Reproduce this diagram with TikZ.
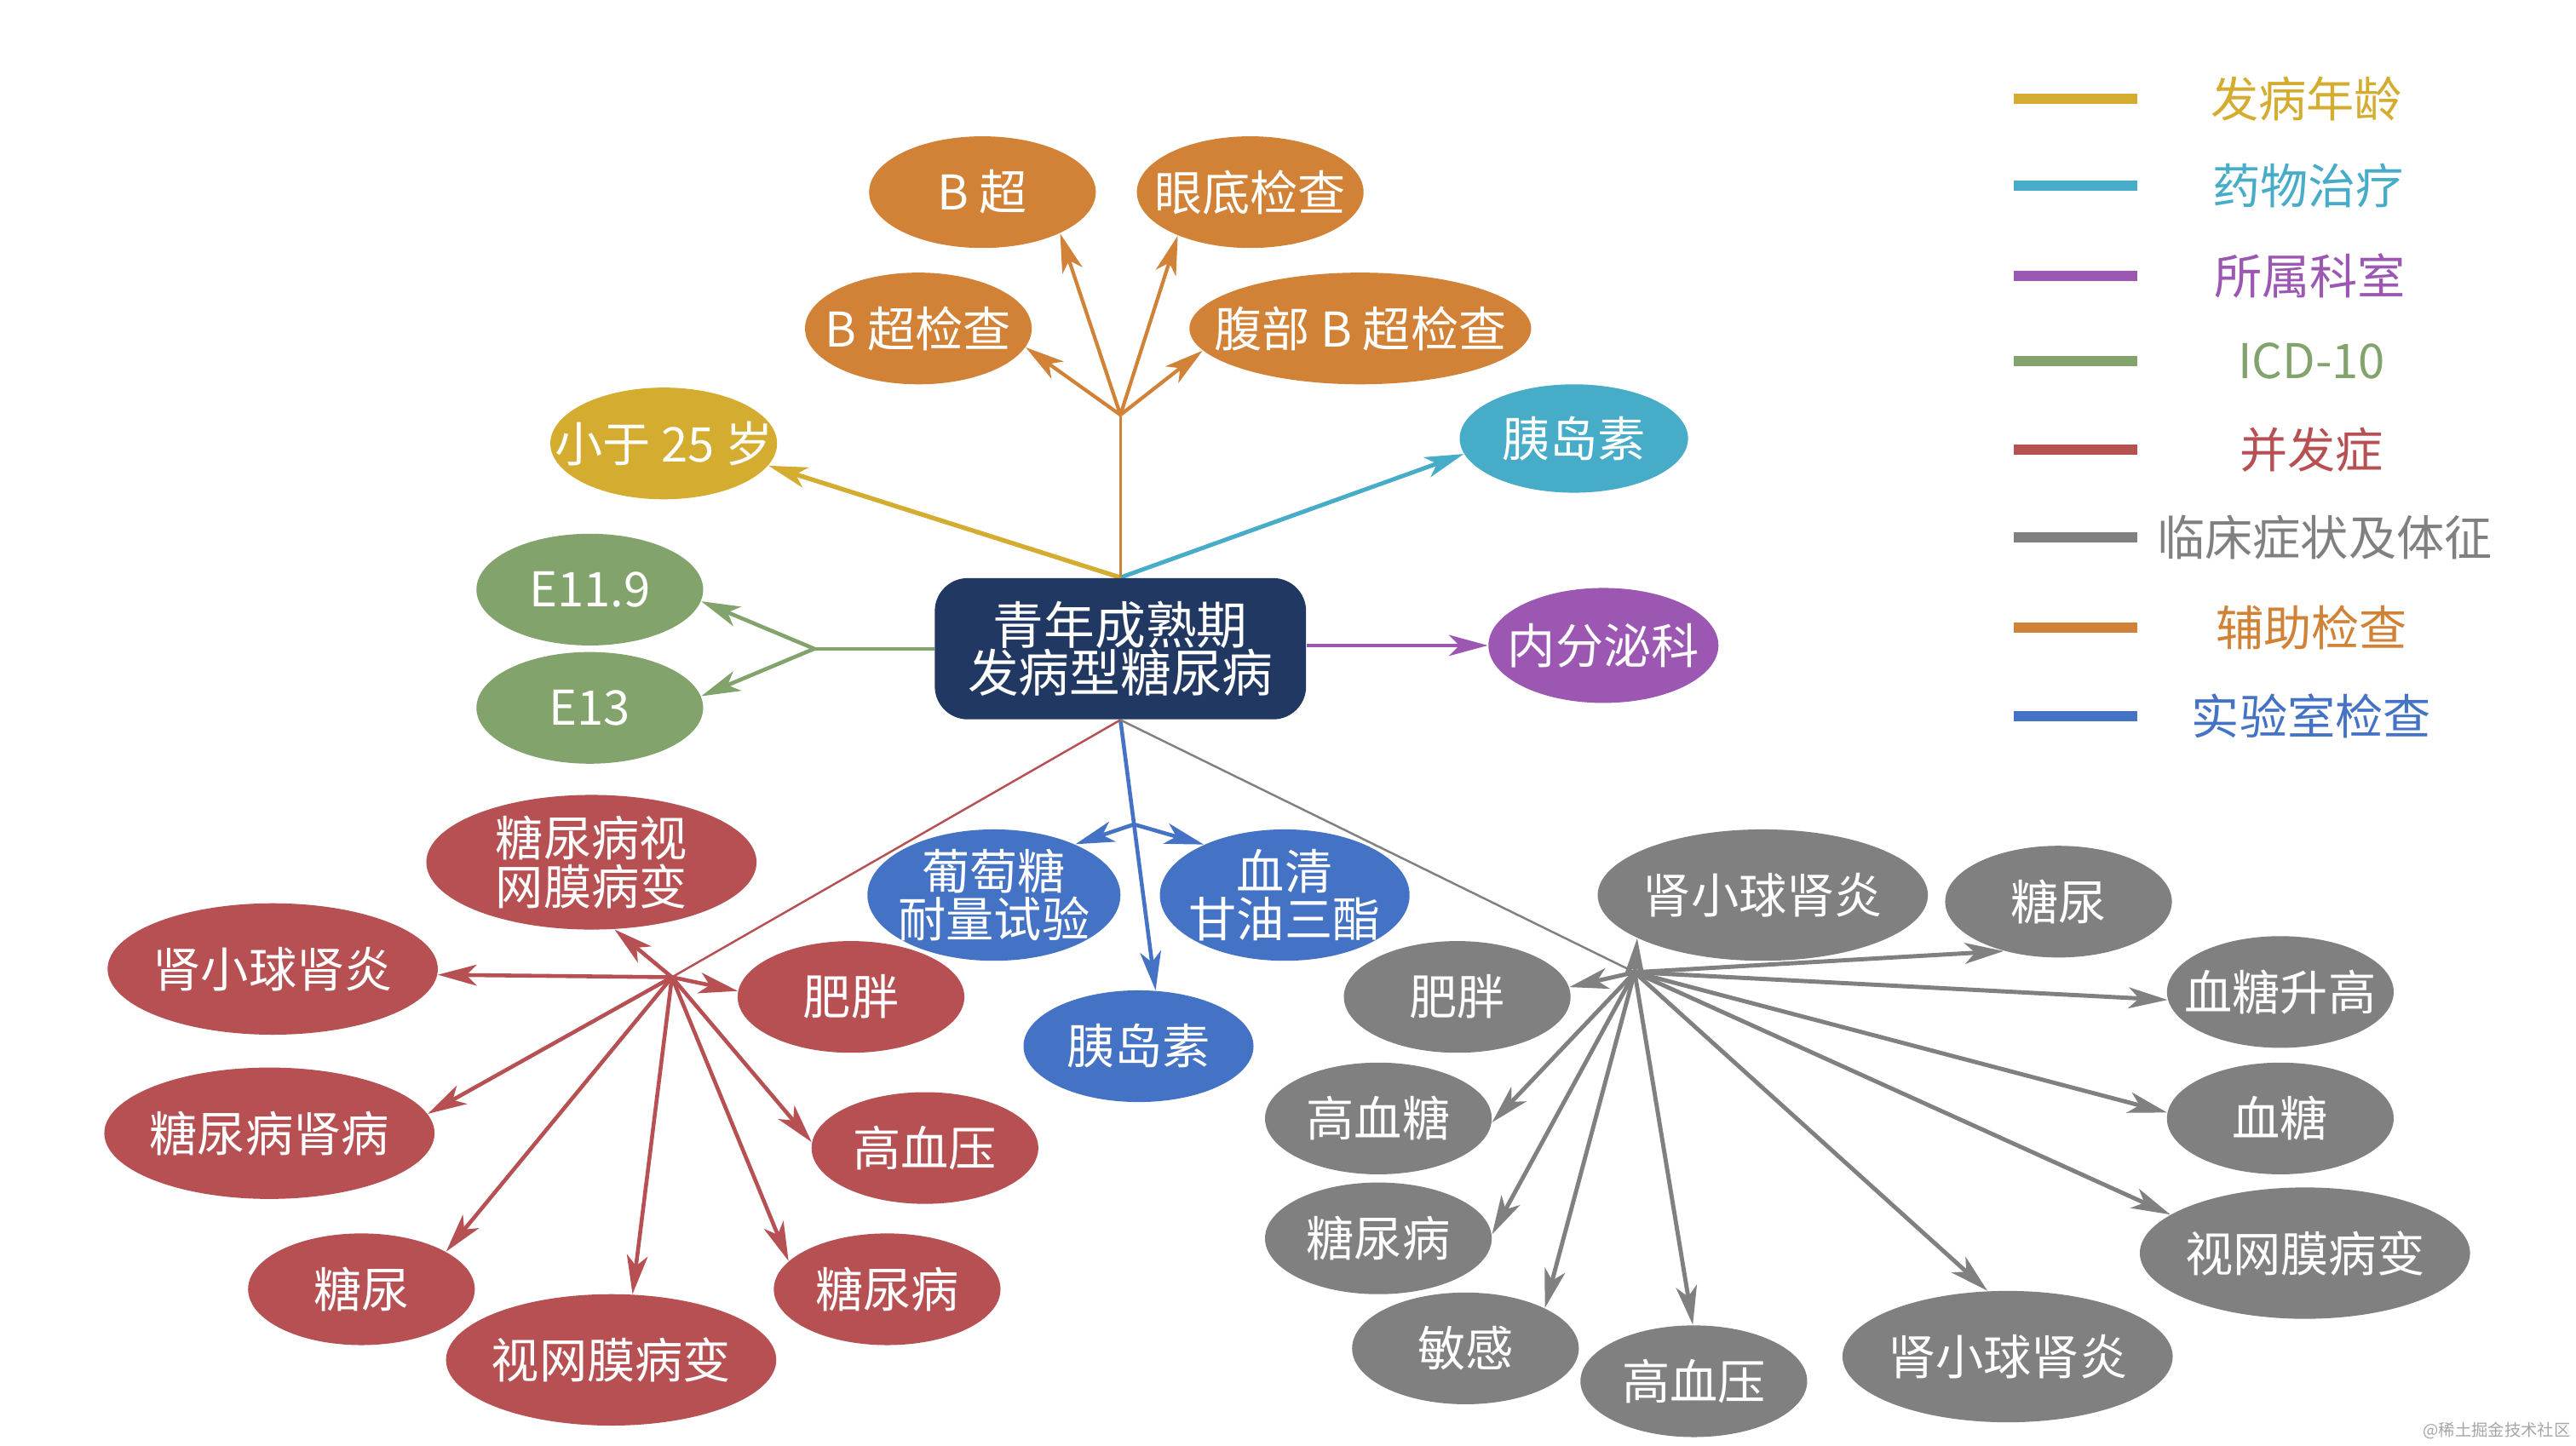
\documentclass[tikz,border=0pt]{standalone}
\usepackage{fontspec}
\setmainfont{Noto Sans CJK SC}
\usetikzlibrary{shapes.geometric,arrows.meta,calc}
\definecolor{cyel}{HTML}{D4AC30}
\definecolor{cteal}{HTML}{46ACC8}
\definecolor{cpur}{HTML}{9C57B2}
\definecolor{cgrn}{HTML}{82A36C}
\definecolor{cred}{HTML}{B75052}
\definecolor{cgray}{HTML}{808080}
\definecolor{corg}{HTML}{D18237}
\definecolor{cblue}{HTML}{4472C4}
\definecolor{cnavy}{HTML}{213863}
\newcommand\pxu{0.019286cm}
\pgfdeclarelayer{bg}
\pgfsetlayers{bg,main}
\tikzset{
  bub/.style={ellipse, inner sep=0pt, draw=none},
  sm/.style={bub, minimum width=138*\pxu, minimum height=68*\pxu},
  lg/.style={bub, minimum width=201*\pxu, minimum height=80*\pxu},
  txt/.style={text=white, font=\fontsize{16}{16}\selectfont, align=center, inner sep=0pt},
  arr/.style={-{Stealth[length=13pt,width=7pt,inset=3.5pt]}, line width=1.4pt},
  trunk/.style={line width=0.7pt},
  legline/.style={line width=3.4pt},
  legtxt/.style={font=\fontsize{16}{16}\selectfont, inner sep=0pt},
}
\newcommand\bubble[5]{\node[#2] (#1) at (#3,#4) {};\node[txt] (#1t) at (#1) {#5};}
\begin{document}
\begin{tikzpicture}[x=0.019286cm, y=-0.019286cm]
\useasboundingbox (0,0) rectangle (1568,880);
% center
\node[fill=cnavy, rounded corners=11pt, minimum width=226*\pxu, minimum height=86*\pxu,
      text=white, font=\fontsize{17}{16}\selectfont, align=center, inner sep=0pt] (c) at (682,395) {青年成熟期\\发病型糖尿病};
% orange
\bubble{ob1}{sm,fill=corg}{559}{200}{B 超检查}
\bubble{ob2}{sm,fill=corg}{598}{117}{B 超}
\bubble{ob3}{sm,fill=corg}{761}{117}{眼底检查}
\bubble{ob4}{bub,fill=corg,minimum width=208*\pxu,minimum height=68*\pxu}{828}{200}{腹部 B 超检查}
% yellow, teal, purple
\bubble{y1}{sm,fill=cyel}{404}{270}{小于 25 岁}
\bubble{t1}{bub,fill=cteal,minimum width=139*\pxu,minimum height=66*\pxu}{958}{267}{胰岛素}
\bubble{p1}{bub,fill=cpur,minimum width=140*\pxu,minimum height=70*\pxu}{976}{393}{内分泌科}
% green
\bubble{g1}{sm,fill=cgrn}{359}{359}{E11.9}
\bubble{g2}{sm,fill=cgrn}{359}{431}{E13}
% red
\bubble{r1}{lg,fill=cred,minimum height=82*\pxu}{360}{525}{糖尿病视\\网膜病变}
\bubble{r2}{lg,fill=cred}{166}{590}{肾小球肾炎}
\bubble{r3}{sm,fill=cred}{518}{607}{肥胖}
\bubble{r4}{lg,fill=cred}{164}{690}{糖尿病肾病}
\bubble{r5}{sm,fill=cred}{563}{699}{高血压}
\bubble{r6}{sm,fill=cred}{220}{785}{糖尿}
\bubble{r7}{lg,fill=cred}{372}{828}{视网膜病变}
\bubble{r8}{sm,fill=cred}{540}{785}{糖尿病}
% blue
\bubble{b1}{bub,fill=cblue,minimum width=154*\pxu,minimum height=80*\pxu}{605}{545}{葡萄糖\\耐量试验}
\bubble{b2}{bub,fill=cblue,minimum width=152*\pxu,minimum height=80*\pxu}{782}{545}{血清\\甘油三酯}
\bubble{b3}{sm,fill=cblue,minimum width=140*\pxu}{693}{637}{胰岛素}
% gray
\bubble{k1}{lg,fill=cgray}{1073}{545}{肾小球肾炎}
\bubble{k2}{sm,fill=cgray}{1253}{549}{糖尿}
\bubble{k3}{sm,fill=cgray}{887}{607}{肥胖}
\bubble{k4}{sm,fill=cgray}{1388}{604}{血糖升高}
\bubble{k5}{sm,fill=cgray}{839}{681}{高血糖}
\bubble{k6}{sm,fill=cgray}{1388}{681}{血糖}
\bubble{k7}{sm,fill=cgray}{839}{754}{糖尿病}
\bubble{k8}{lg,fill=cgray}{1403}{763}{视网膜病变}
\bubble{k9}{sm,fill=cgray}{892}{821}{敏感}
\bubble{k10}{sm,fill=cgray}{1031}{841}{高血压}
\bubble{k11}{lg,fill=cgray}{1222}{826}{肾小球肾炎}
% legend
\foreach \legY/\legC/\legT/\legX in {60/cyel/发病年龄/1404, 113/cteal/药物治疗/1405, 168/cpur/所属科室/1406, 220/cgrn/ICD-10/1407, 274/cred/并发症/1407, 327/cgray/临床症状及体征/1415, 382/corg/辅助检查/1407, 436/cblue/实验室检查/1407}{
  \draw[legline, \legC] (1226,\legY) -- (1301,\legY);
  \node[legtxt, text=\legC] (leg\legC) at (\legX,\legY) {\legT};
}
\node[text=black!35, font=\fontsize{5.5}{6}\selectfont, inner sep=0pt, anchor=east] (wm) at (1565,871) {@稀土掘金技术社区};
% connectors
\begin{pgfonlayer}{bg}
\fill[white] (0,0) rectangle (1568,880);
\draw[arr, cyel, line width=1.5pt] (c.north) -- (y1.348);
\draw[arr, cteal, line width=1.4pt] (c.north) -- (t1.188);
\path (c.north) ++(0,-99) coordinate (oj);
\draw[corg, line width=1pt] (c.north) -- (oj);
\foreach \n/\a in {ob1/350,ob2/332,ob3/211,ob4/188}
  \draw[arr, corg, line width=1.2pt] (oj) -- (\n.\a);
\path (c.west) ++(-73,0) coordinate (gj);
\draw[cgrn, line width=1.3pt] (c.west) -- (gj);
\draw[arr, cgrn, line width=1.3pt] (gj) -- (g1.354);
\draw[arr, cgrn, line width=1.3pt] (gj) -- (g2.6);
\draw[arr, cpur, line width=1.2pt] (c.east |- p1.west) -- (p1.west);
\draw[arr, cblue, line width=1.3pt] (c.south) -- (b3.73);
\coordinate (bj) at ($(c.south)!0.386!(b3.73)$);
\draw[arr, cblue, line width=1.3pt] (bj) -- (b1.32);
\draw[arr, cblue, line width=1.3pt] (bj) -- (b2.148);
\coordinate (rh) at (409,595);
\draw[cred, trunk] (c.south) -- (rh);
\foreach \n/\a in {r1/289,r2/358,r3/177,r4/7,r5/177,r6/24,r7/72,r8/164}
  \draw[arr, cred, line width=1.3pt] (rh) -- (\n.\a);
\coordinate (kh) at (995,592);
\draw[cgray, trunk] (c.south) -- (kh);
\foreach \n/\a in {k1/199,k2/222,k3/5,k4/184,k5/358,k6/177,k7/2,k8/164,k9/27,k10/91,k11/107}
  \draw[arr, cgray, line width=1.4pt] (kh) -- (\n.\a);
\end{pgfonlayer}
\end{tikzpicture}
\end{document}
